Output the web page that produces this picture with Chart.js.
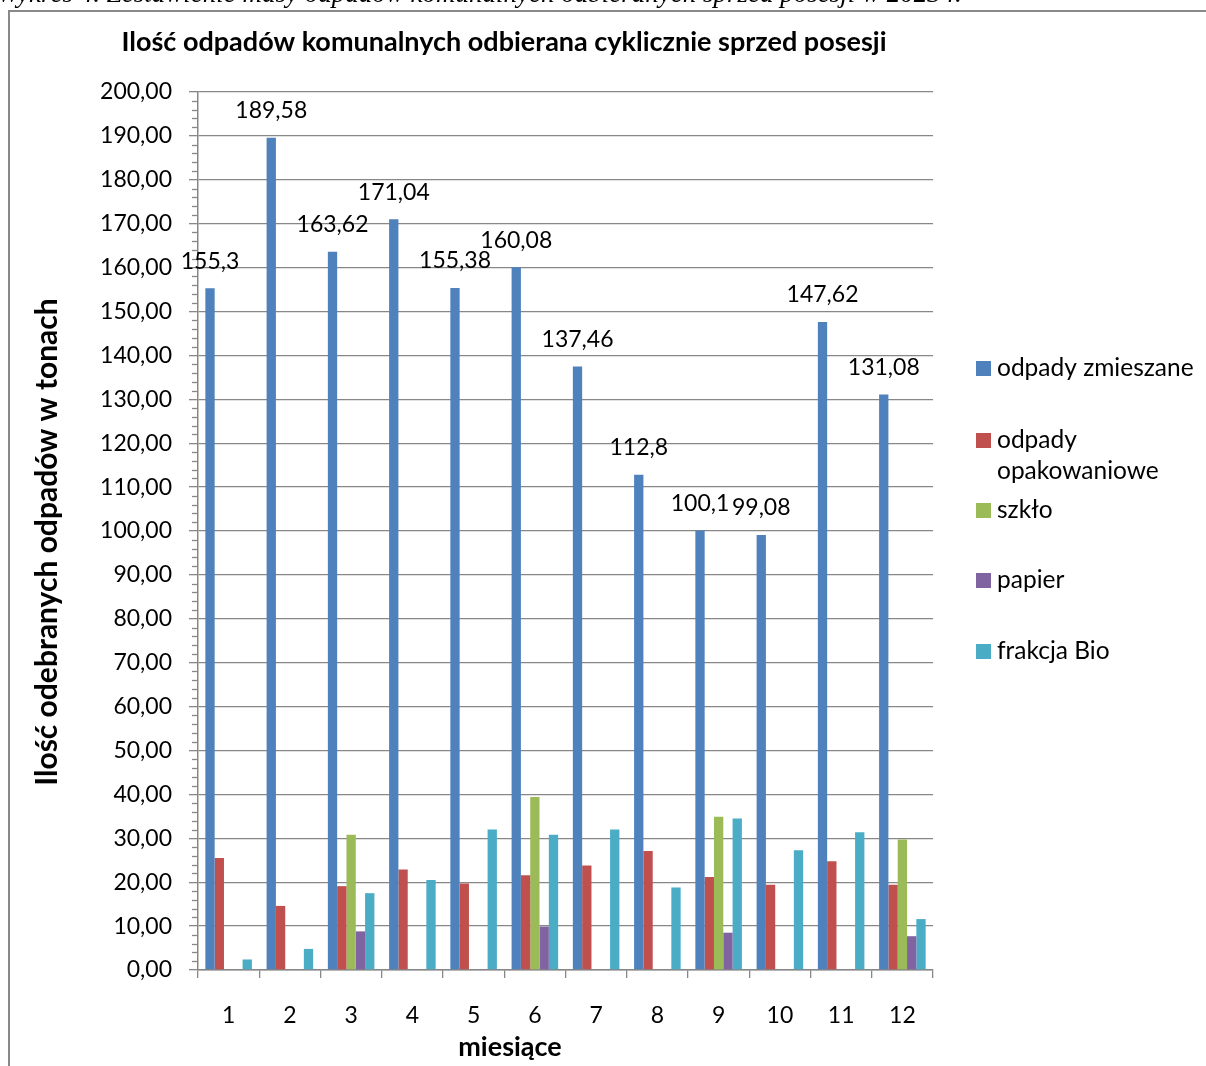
<!DOCTYPE html>
<html>
<head>
<meta charset="utf-8">
<script src="https://cdn.jsdelivr.net/npm/chart.js@4.4.0/dist/chart.umd.min.js"></script>
<style>
	body { margin: 0; background: #fff; overflow: hidden; }
	#wrap { position: relative; width: 1206px; height: 1066px; overflow: hidden; }
	#caption {
		position: absolute; left: -3px; top: -20px; white-space: nowrap;
		font-family: 'Liberation Serif', serif; font-style: italic; font-size: 27px; line-height: 1;
	}
	canvas { position: absolute; left: 0; top: 0; }
</style>
</head>
<body>
<div id="wrap">
	<canvas id="myChart" width="1206" height="1066"></canvas>
	<div id="caption">Wykres 4. Zestawienie masy odpadów komunalnych odbieranych sprzed posesji w 2023 r.</div>
</div>
<script>
// -- DATA ---------------//
const Months = ['1', '2', '3', '4', '5', '6', '7', '8', '9', '10', '11', '12'];
const Zmieszane = [155.3, 189.58, 163.62, 171.04, 155.38, 160.08, 137.46, 112.8, 100.1, 99.08, 147.62, 131.08];
const Opakowaniowe = [25.5, 14.6, 19.1, 22.9, 19.7, 21.6, 23.8, 27.1, 21.2, 19.4, 24.8, 19.4];
const Szklo = [null, null, 30.8, null, null, 39.4, null, null, 34.9, null, null, 29.7];
const Papier = [null, null, 8.8, null, null, 9.9, null, null, 8.5, null, null, 7.7];
const Bio = [2.4, 4.8, 17.5, 20.5, 32.0, 30.8, 32.0, 18.8, 34.5, 27.3, 31.4, 11.6];

const FONT = 'Lato, sans-serif';
const GRID = '#878787';

// -- EXTRA DRAWING (frame, titles, labels, legend) ---------------//
const extras = {
	id: 'extras',
	beforeDraw(chart) {
		const c = chart.ctx;
		c.save();
		c.strokeStyle = '#898989';
		c.lineWidth = 2;
		c.beginPath();
		c.moveTo(9, 1066);
		c.lineTo(9, 11);
		c.lineTo(1206, 11);
		c.stroke();
		c.restore();
	},
	afterDraw(chart) {
		const c = chart.ctx;
		const y = chart.scales.y;
		c.save();
		// minor ticks on the y axis
		c.strokeStyle = GRID;
		c.lineWidth = 1.3;
		for (let v = 0; v <= 200; v += 2) {
			if (v % 10 === 0) continue;
			const py = Math.round(y.getPixelForValue(v)) + 0.5;
			c.beginPath();
			c.moveTo(192, py);
			c.lineTo(y.right, py);
			c.stroke();
		}
		c.fillStyle = '#000';
		// chart title
		c.font = 'bold 27px ' + FONT;
		c.textAlign = 'center';
		c.textBaseline = 'middle';
		c.fillText('Ilość odpadów komunalnych odbierana cyklicznie sprzed posesji', 504, 42);
		// axis titles
		c.font = 'bold 27px ' + FONT;
		c.fillText('miesiące', 510, 1047);
		c.save();
		c.translate(47, 542);
		c.rotate(-Math.PI / 2);
		c.font = 'bold 30px ' + FONT;
		c.fillText('Ilość odebranych odpadów w tonach', 0, 0);
		c.restore();
		// data labels on first series
		c.font = '23px ' + FONT;
		const meta = chart.getDatasetMeta(0);
		meta.data.forEach((el, i) => {
			const txt = String(Zmieszane[i]).replace('.', ',');
			c.fillText(txt, el.x, el.y - 27);
		});
		// legend
		const items = [
			{ y: 368, lines: [chart.data.datasets[0].label] },
			{ y: 440, lines: ['odpady', 'opakowaniowe'] },
			{ y: 510, lines: [chart.data.datasets[2].label] },
			{ y: 580, lines: [chart.data.datasets[3].label] },
			{ y: 651, lines: [chart.data.datasets[4].label] },
		];
		c.textAlign = 'left';
		c.font = '24.5px ' + FONT;
		items.forEach((it, i) => {
			c.fillStyle = chart.data.datasets[i].backgroundColor;
			c.fillRect(976, it.y - 7, 15, 15);
			c.fillStyle = '#000';
			it.lines.forEach((ln, k) => c.fillText(ln, 997, it.y + k * 31));
		});
		c.restore();
	}
};

// -- CHART ---------------//
const ctx = document.getElementById('myChart').getContext('2d');
const myChart = new Chart(ctx, {
	type: 'bar',
	data: {
		labels: Months,
		datasets: [
			{ label: 'odpady zmieszane', data: Zmieszane, backgroundColor: '#4F81BD' },
			{ label: 'odpady opakowaniowe', data: Opakowaniowe, backgroundColor: '#C0504D' },
			{ label: 'szkło', data: Szklo, backgroundColor: '#9BBB59' },
			{ label: 'papier', data: Papier, backgroundColor: '#8064A2' },
			{ label: 'frakcja Bio', data: Bio, backgroundColor: '#4BACC6' },
		],
	},
	options: {
		responsive: false,
		maintainAspectRatio: false,
		animation: false,
		categoryPercentage: 0.76,
		barPercentage: 1.0,
		layout: {
			padding: { top: 92, right: 273, bottom: 0, left: 0 }
		},
		plugins: {
			legend: { display: false },
			title: { display: false },
			tooltip: { enabled: false },
		},
		scales: {
			x: {
				offset: true,
				grid: {
					offset: true,
					drawOnChartArea: false,
					drawTicks: true,
					tickLength: 8,
					color: GRID,
					lineWidth: 1.3,
				},
				border: { display: true, color: GRID, width: 1.5 },
				ticks: {
					padding: 24,
					color: '#000',
					font: { family: FONT, size: 23 },
				},
				afterFit(scale) { scale.height = 96; },
			},
			y: {
				min: 0,
				max: 200,
				grid: {
					color: GRID,
					lineWidth: 1.3,
					drawTicks: true,
					tickLength: 9,
				},
				border: { display: true, color: GRID, width: 1.5 },
				ticks: {
					stepSize: 10,
					padding: 17,
					color: '#000',
					font: { family: FONT, size: 23 },
					callback: (v) => v.toFixed(2).replace('.', ','),
				},
				afterFit(scale) { scale.width = 198; },
			},
		},
	},
	plugins: [extras],
});
</script>
</body>
</html>
